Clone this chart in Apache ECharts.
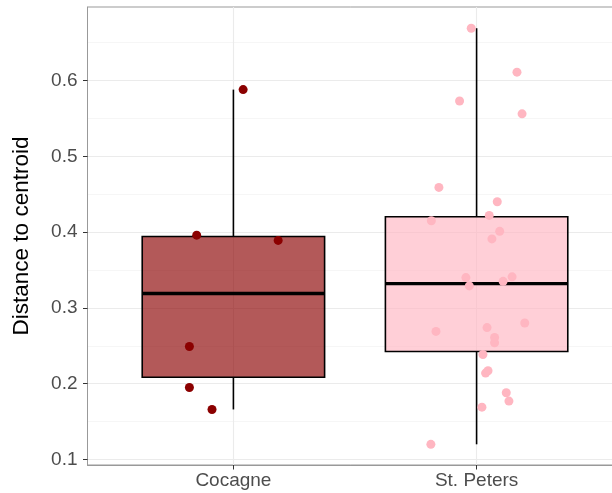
<!DOCTYPE html>
<html>
<head>
<meta charset="utf-8">
<script src="https://cdn.jsdelivr.net/npm/echarts@6/dist/echarts.min.js"></script>
<style>
  html, body { margin: 0; padding: 0; background: #fff; overflow: hidden; }
  #chart { width: 612px; height: 493px; }
</style>
</head>
<body>
<div id="chart"></div>
<script>
// Sites shown on the x axis (positions 1 and 2)
const categories = ['Cocagne', 'St. Peters'];

// Jittered observations: x = site position + jitter, y = distance to centroid
const cocagneX = [1.040, 0.849, 1.184, 0.819, 0.819, 0.912];
const cocagneY = [0.588, 0.396, 0.389, 0.249, 0.195, 0.166];

const stPetersX = [1.978, 2.166, 1.930, 2.187, 1.845, 2.085, 2.052, 1.814, 2.095, 2.063,
                   1.956, 1.970, 2.146, 2.109, 2.198, 1.833, 2.043, 2.074, 2.074, 2.026,
                   2.047, 2.037, 2.122, 2.133, 2.022, 1.812];
const stPetersY = [0.669, 0.611, 0.573, 0.556, 0.459, 0.440, 0.422, 0.415, 0.401, 0.391,
                   0.340, 0.329, 0.341, 0.335, 0.280, 0.269, 0.274, 0.261, 0.254, 0.2385,
                   0.217, 0.214, 0.188, 0.177, 0.169, 0.120];

// Axis ticks
const yMajorTicks = [0.1, 0.2, 0.3, 0.4, 0.5, 0.6];
const yMinorTicks = [0.15, 0.25, 0.35, 0.45, 0.55, 0.65];
const xTicks = [1, 2];

const pointColors = ['#8B0000', '#FFB6C1'];
const boxFills = ['rgba(139,0,0,0.65)', 'rgba(255,182,193,0.65)'];

// Quantile (R type 7)
function quantile(sorted, p) {
  const h = (sorted.length - 1) * p;
  const lo = Math.floor(h);
  const hi = Math.ceil(h);
  return sorted[lo] + (h - lo) * (sorted[hi] - sorted[lo]);
}

// Tukey box statistics: [position, lowerWhisker, Q1, median, Q3, upperWhisker]
function boxStats(pos, values) {
  const s = values.slice().sort((a, b) => a - b);
  const q1 = quantile(s, 0.25), med = quantile(s, 0.5), q3 = quantile(s, 0.75);
  const iqr = q3 - q1;
  const inside = s.filter(v => v >= q1 - 1.5 * iqr && v <= q3 + 1.5 * iqr);
  return [pos, inside[0], q1, med, q3, inside[inside.length - 1]];
}

const boxData = [boxStats(1, cocagneY), boxStats(2, stPetersY)];
const boxWidth = 0.75;

const chart = echarts.init(document.getElementById('chart'));

const labelFont = { fontFamily: 'Liberation Sans, Arial, sans-serif', fontSize: 19, color: '#4d4d4d' };

chart.setOption({
  animation: false,
  backgroundColor: '#ffffff',
  grid: {
    // the plotting panel runs a little past the right edge of the canvas
    left: 87.5, width: 535, top: 7, bottom: 28,
    outerBoundsMode: 'none',
    containLabel: false,
    show: true, borderColor: '#999999', borderWidth: 1, backgroundColor: 'transparent'
  },
  xAxis: {
    type: 'value',
    min: 0.4, max: 2.6,
    axisLine: { show: true, lineStyle: { color: '#999999', width: 1 } },
    axisTick: { show: true, length: 4.5, customValues: xTicks, lineStyle: { color: '#333333', width: 1 } },
    axisLabel: Object.assign({
      customValues: xTicks, margin: 6,
      formatter: v => categories[Math.round(v) - 1] || ''
    }, labelFont),
    splitLine: { show: true, lineStyle: { color: '#ebebeb', width: 1.1 } }
  },
  yAxis: [{
    type: 'value',
    min: 0.0927, max: 0.697,
    name: 'Distance to centroid',
    nameLocation: 'middle',
    nameGap: 54,
    nameTextStyle: { fontFamily: 'Liberation Sans, Arial, sans-serif', fontSize: 22.5, color: '#000000' },
    axisLine: { show: true, lineStyle: { color: '#999999', width: 1 } },
    axisTick: { show: true, length: 4.5, customValues: yMajorTicks, lineStyle: { color: '#333333', width: 1 } },
    axisLabel: Object.assign({
      customValues: yMajorTicks, margin: 10,
      formatter: v => v.toFixed(1)
    }, labelFont),
    splitLine: { show: true, lineStyle: { color: '#ebebeb', width: 1.1 } }
  }, {
    // minor horizontal grid lines
    type: 'value',
    min: 0.0927, max: 0.697,
    position: 'left',
    axisLine: { show: false },
    axisTick: { show: false, customValues: yMinorTicks },
    axisLabel: { show: false, customValues: yMinorTicks },
    splitLine: { show: true, lineStyle: { color: '#f0f0f0', width: 0.6 } }
  }],
  series: [{
    type: 'custom',
    z: 2,
    data: boxData,
    renderItem: function (params, api) {
      const x = api.value(0);
      const left = api.coord([x - boxWidth / 2, api.value(2)]);
      const right = api.coord([x + boxWidth / 2, api.value(4)]);
      const lo = api.coord([x, api.value(1)]);
      const q1 = api.coord([x, api.value(2)]);
      const med = api.coord([x - boxWidth / 2, api.value(3)]);
      const medR = api.coord([x + boxWidth / 2, api.value(3)]);
      const q3 = api.coord([x, api.value(4)]);
      const hi = api.coord([x, api.value(5)]);
      const i = params.dataIndex;
      return {
        type: 'group',
        children: [
          { type: 'line', shape: { x1: lo[0], y1: lo[1], x2: q1[0], y2: q1[1] },
            style: { stroke: '#000', lineWidth: 1.6 } },
          { type: 'line', shape: { x1: q3[0], y1: q3[1], x2: hi[0], y2: hi[1] },
            style: { stroke: '#000', lineWidth: 1.6 } },
          { type: 'rect',
            shape: { x: left[0], y: right[1], width: right[0] - left[0], height: left[1] - right[1] },
            style: { fill: boxFills[i], stroke: '#000', lineWidth: 1.6 } },
          { type: 'line', shape: { x1: med[0], y1: med[1], x2: medR[0], y2: medR[1] },
            style: { stroke: '#000', lineWidth: 3.4 } }
        ]
      };
    }
  }, {
    type: 'scatter',
    z: 3,
    symbolSize: 9,
    itemStyle: { color: pointColors[0], opacity: 1 },
    data: cocagneX.map((x, i) => [x, cocagneY[i]])
  }, {
    type: 'scatter',
    z: 3,
    symbolSize: 9,
    itemStyle: { color: pointColors[1], opacity: 1 },
    data: stPetersX.map((x, i) => [x, stPetersY[i]])
  }]
});
</script>
</body>
</html>
